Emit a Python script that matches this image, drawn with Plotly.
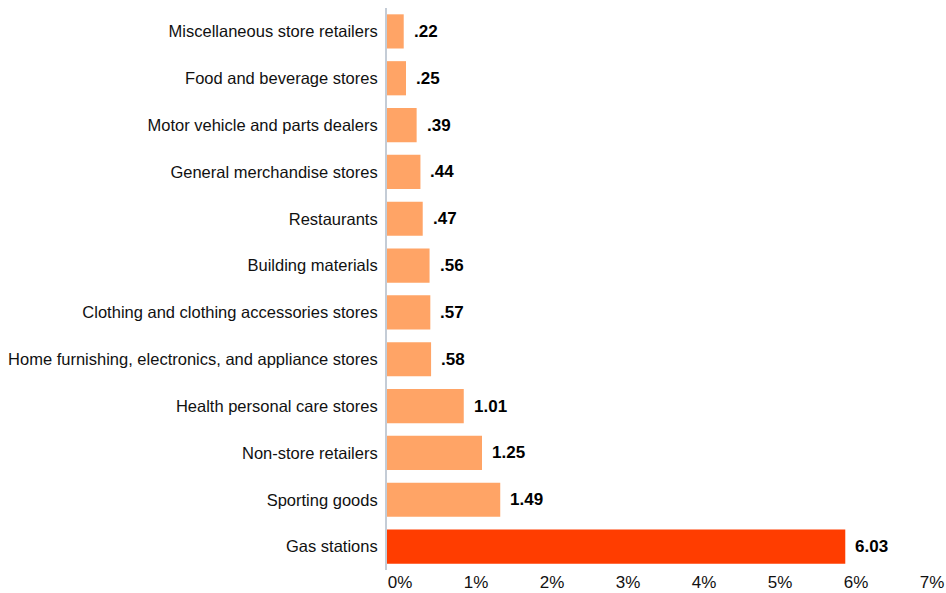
import plotly.graph_objects as go

categories = [
    "Miscellaneous store retailers",
    "Food and beverage stores",
    "Motor vehicle and parts dealers",
    "General merchandise stores",
    "Restaurants",
    "Building materials",
    "Clothing and clothing accessories stores",
    "Home furnishing, electronics, and appliance stores",
    "Health personal care stores",
    "Non-store retailers",
    "Sporting goods",
    "Gas stations",
]
values = [0.22, 0.25, 0.39, 0.44, 0.47, 0.56, 0.57, 0.58, 1.01, 1.25, 1.49, 6.03]
tick_vals = [0, 1, 2, 3, 4, 5, 6, 7]
tick_text = ["0%", "1%", "2%", "3%", "4%", "5%", "6%", "7%"]

LIGHT = "#FFA466"
STRONG = "#FF3D00"
colors = [STRONG if c == "Gas stations" else LIGHT for c in categories]


def fmt(v):
    s = f"{v:.2f}"
    return s[1:] if s.startswith("0") else s


font_family = "Liberation Sans, Arial, Helvetica, sans-serif"
TEXT = "#111111"

fig = go.Figure(
    go.Bar(
        x=values,
        y=categories,
        orientation="h",
        marker=dict(color=colors, line=dict(width=0)),
        hoverinfo="skip",
    )
)

for c, v in zip(categories, values):
    fig.add_annotation(
        x=v,
        y=c,
        text=f"<b>{fmt(v)}</b>",
        xanchor="left",
        yanchor="middle",
        xshift=8,
        showarrow=False,
        font=dict(size=17, color="#000000", family=font_family),
    )

fig.update_layout(
    width=946,
    height=593,
    margin=dict(l=387, r=27, t=8, b=23),
    plot_bgcolor="white",
    paper_bgcolor="white",
    bargap=0.27,
    showlegend=False,
    font=dict(family=font_family, size=16, color=TEXT),
)
fig.update_xaxes(
    range=[0, 7],
    tickvals=tick_vals,
    ticktext=tick_text,
    showgrid=False,
    zeroline=False,
    showline=False,
    ticks="",
    automargin=False,
    ticklabelshift=13,
    tickfont=dict(size=17, color=TEXT),
)
# top-to-bottom order as listed
fig.update_yaxes(
    categoryorder="array",
    categoryarray=categories,
    autorange="reversed",
    showgrid=False,
    zeroline=False,
    showline=True,
    linecolor="#C4CCD6",
    linewidth=2,
    ticks="",
    automargin=False,
    ticklabelstandoff=4,
    tickfont=dict(size=16.5, color=TEXT),
)

fig.write_html("out.html")
